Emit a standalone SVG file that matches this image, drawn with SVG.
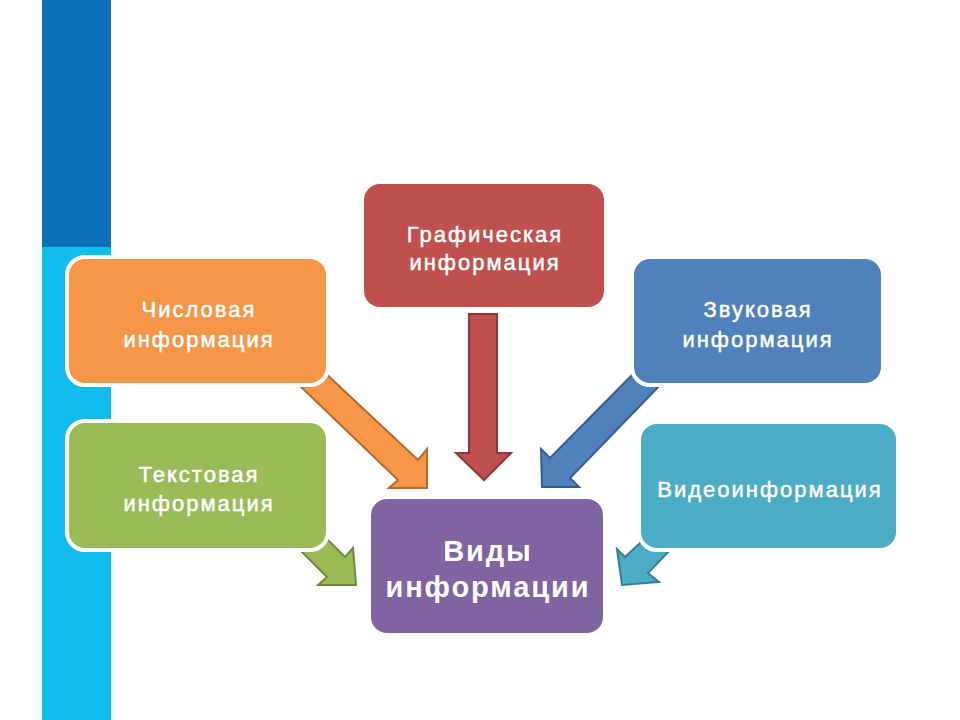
<svg xmlns="http://www.w3.org/2000/svg" width="960" height="720" viewBox="0 0 960 720">
<style>
.box{stroke:#ffffff;stroke-width:4}
.t{font-family:"Liberation Sans",Arial,sans-serif;font-size:22px;font-weight:normal;letter-spacing:2px;fill:#ffffff;stroke:#ffffff;stroke-width:0.5;text-anchor:middle}
.big{font-size:29px;font-weight:bold;letter-spacing:1.9px;stroke-width:0}
.arr{stroke-width:2;stroke-linejoin:miter}
</style>
<rect width="960" height="720" fill="#ffffff"/>
<g id="sidebar">
<rect x="42" y="0" width="69" height="247" fill="#0A70B8"/>
<rect x="42" y="247" width="69" height="473" fill="#12BCEE"/>
</g>
<g id="connectors">
<polygon class="arr" fill="#F79646" stroke="#B4692E" points="322,370 418,460 427,449 427,488 389,488 398,480 296,382"/>
<polygon class="arr" fill="#C0504D" stroke="#8C3836" points="469,314 497,314 497,453 511,453 484,480 456,453 469,453"/>
<polygon class="arr" fill="#4F81BD" stroke="#385D8A" points="636,371 550,458 541,449 542,487 579,487 570,478 663,382"/>
<polygon class="arr" fill="#9BBB59" stroke="#71893F" points="318,530 345,557 353,548 356,585 318,585 327,577 300,550"/>
<polygon class="arr" fill="#4BACC6" stroke="#357D91" points="650,534 625,557 617,549 622,585 659,582 648,573 672,548"/>
</g>
<g id="chislovaya">
<rect class="box" x="67" y="257" width="261" height="128" rx="18" fill="#F79646"/>
<text class="t" x="199" y="317">Числовая</text>
<text class="t" x="199" y="347">информация</text>
</g>
<g id="tekstovaya">
<rect class="box" x="67" y="421" width="261" height="129" rx="18" fill="#9BBB59"/>
<text class="t" x="199" y="482">Текстовая</text>
<text class="t" x="199" y="511">информация</text>
</g>
<g id="graficheskaya">
<rect class="box" x="362" y="182" width="244" height="127" rx="18" fill="#C0504D"/>
<text class="t" x="485" y="242">Графическая</text>
<text class="t" x="485" y="270">информация</text>
</g>
<g id="zvukovaya">
<rect class="box" x="632" y="257" width="251" height="128" rx="18" fill="#4F81BD"/>
<text class="t" x="758" y="317">Звуковая</text>
<text class="t" x="758" y="347">информация</text>
</g>
<g id="video">
<rect class="box" x="639" y="422" width="259" height="128" rx="18" fill="#4BACC6"/>
<text class="t" x="770" y="497">Видеоинформация</text>
</g>
<g id="vidy">
<rect class="box" x="369" y="497" width="236" height="138" rx="18" fill="#8064A2"/>
<text class="t big" x="488" y="561">Виды</text>
<text class="t big" x="488" y="597">информации</text>
</g>
</svg>
